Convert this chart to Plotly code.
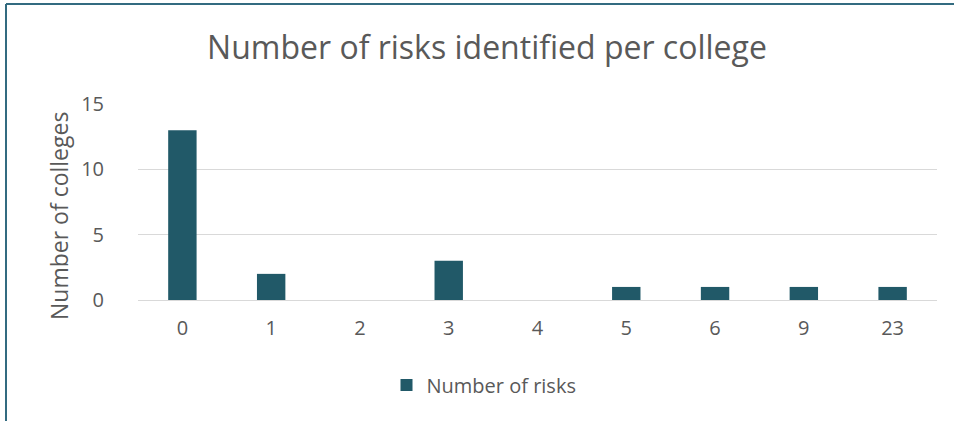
import plotly.graph_objects as go

# Risks per college (category) and number of colleges with that count
risk_counts = ["0", "1", "2", "3", "4", "5", "6", "9", "23"]
colleges = [13, 2, 0, 3, 0, 1, 1, 1, 1]
y_ticks = [0, 5, 10, 15]

W, H = 954, 421
L, R, T, B = 138, 17, 104, 121
pw, ph = W - L - R, H - T - B

bar_color = "#215968"
text_color = "#595959"
font_family = "'Open Sans', sans-serif"

fig = go.Figure()
fig.add_trace(go.Bar(
    x=risk_counts,
    y=colleges,
    name="Number of risks",
    marker=dict(color=bar_color, line=dict(width=0)),
))

# outer frame lines (left and top edges)
frame_color = "#336b80"
fig.add_shape(type="line", xref="paper", yref="paper",
              x0=(6 - L) / pw, x1=(6 - L) / pw,
              y0=(H - B - 4) / ph, y1=(H - B - 425) / ph,
              line=dict(color=frame_color, width=2))
fig.add_shape(type="line", xref="paper", yref="paper",
              x0=(6 - L) / pw, x1=(W + 5 - L) / pw,
              y0=(H - B - 4) / ph, y1=(H - B - 4) / ph,
              line=dict(color=frame_color, width=2))

# vertical axis label
fig.add_annotation(text="Number of colleges", textangle=-90, showarrow=False,
                   xref="paper", yref="paper",
                   x=(59 - L) / pw, y=(H - B - 216) / ph,
                   xanchor="center", yanchor="middle",
                   font=dict(size=23, color=text_color))

fig.update_layout(
    width=W, height=H,
    margin=dict(l=L, r=R, t=T, b=B),
    paper_bgcolor="white", plot_bgcolor="white",
    font=dict(family=font_family, color=text_color, size=20),
    title=dict(text="Number of risks identified per college",
               x=487 / W, xanchor="center", xref="container",
               y=1 - 48 / H, yanchor="middle", yref="container",
               font=dict(size=32, color=text_color)),
    bargap=0.68,
    showlegend=True,
    legend=dict(orientation="h", x=(484 - L) / pw, xanchor="center",
                y=(H - B - 385) / ph, yanchor="middle",
                font=dict(size=20, color=text_color),
                itemwidth=30),
    xaxis=dict(type="category", showgrid=False, showline=False,
               ticks="", ticklabelstandoff=14,
               tickfont=dict(size=20, color=text_color)),
    yaxis=dict(range=[0, 15], tickvals=y_ticks, showgrid=True,
               gridcolor="#d9d9d9", gridwidth=1, zeroline=True,
               zerolinecolor="#d9d9d9", zerolinewidth=1, ticks="",
               ticklabelstandoff=33,
               tickfont=dict(size=20, color=text_color)),
)

fig.write_html("out.html")
